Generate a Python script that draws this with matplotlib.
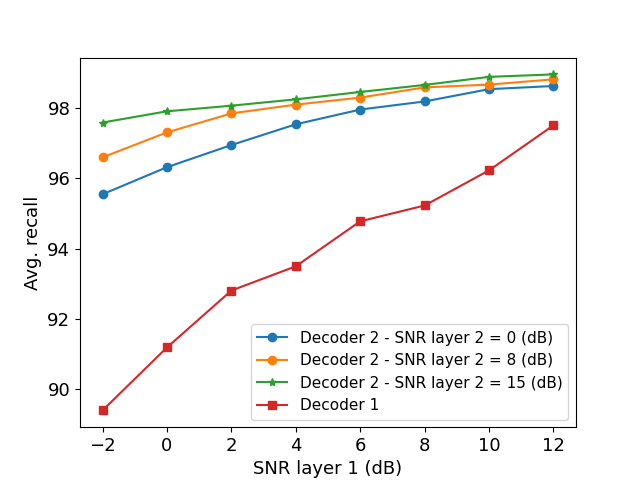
import matplotlib
matplotlib.use("Agg")
import matplotlib.pyplot as plt

snr1 = [-2, 0, 2, 4, 6, 8, 10, 12]
dec2_snr0 = [95.55, 96.32, 96.95, 97.54, 97.96, 98.19, 98.54, 98.63]
dec2_snr8 = [96.60, 97.31, 97.85, 98.10, 98.30, 98.59, 98.67, 98.82]
dec2_snr15 = [97.59, 97.91, 98.07, 98.25, 98.46, 98.66, 98.89, 98.96]
dec1 = [89.40, 91.19, 92.81, 93.50, 94.78, 95.23, 96.23, 97.51]

fig, ax = plt.subplots(figsize=(6.4, 4.8), dpi=100)
ax.plot(snr1, dec2_snr0, marker='o', label='Decoder 2 - SNR layer 2 = 0 (dB)')
ax.plot(snr1, dec2_snr8, marker='o', label='Decoder 2 - SNR layer 2 = 8 (dB)')
ax.plot(snr1, dec2_snr15, marker='*', label='Decoder 2 - SNR layer 2 = 15 (dB)')
ax.plot(snr1, dec1, marker='s', label='Decoder 1')
ax.set_xticks(snr1)
ax.set_xlabel('SNR layer 1 (dB)', fontsize=13)
ax.set_ylabel('Avg. recall', fontsize=13)
ax.tick_params(labelsize=13)
ax.legend(loc='lower right', fontsize=11)
fig.savefig('out.png')
